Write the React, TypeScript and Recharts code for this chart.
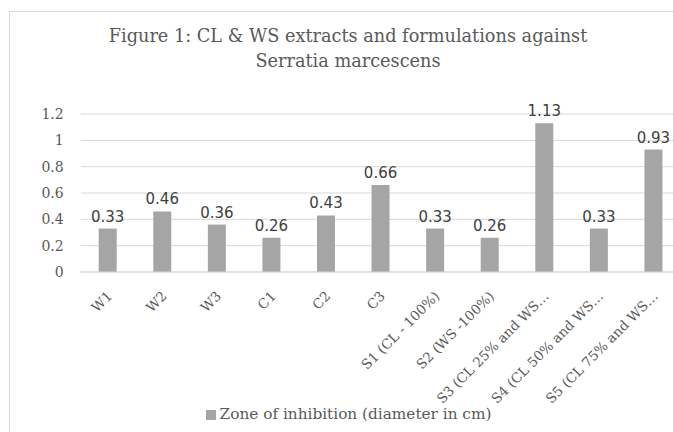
import React from 'react';
import { BarChart, Bar, XAxis, YAxis, CartesianGrid, Legend, LabelList } from 'recharts';

// Samples along the x axis (long names are cut off in the original figure)
const samples = [
  'W1',
  'W2',
  'W3',
  'C1',
  'C2',
  'C3',
  'S1 (CL - 100%)',
  'S2 (WS -100%)',
  'S3 (CL 25% and WS…',
  'S4 (CL 50% and WS…',
  'S5 (CL 75% and WS…',
];
const zoneValues = [0.33, 0.46, 0.36, 0.26, 0.43, 0.66, 0.33, 0.26, 1.13, 0.33, 0.93];
const yTicks = [0, 0.2, 0.4, 0.6, 0.8, 1, 1.2];
const seriesName = 'Zone of inhibition (diameter in cm)';

const data = samples.map((name, i) => ({ name, zone: zoneValues[i] }));

const SERIF = '"DejaVu Serif", "Liberation Serif", serif';
const SANS = '"DejaVu Sans", "Liberation Sans", sans-serif';
const TEXT = '#595959';

function AngledTick({ x, y, payload }: any) {
  return (
    <g transform={`translate(${x},${y})`}>
      <text
        x={5}
        y={17}
        textAnchor="end"
        transform="rotate(-45 5 17)"
        fill={TEXT}
        fontSize={13.5}
        fontFamily={SERIF}
      >
        {payload.value}
      </text>
    </g>
  );
}

export default function App() {
  // fixed so the page never grows a scrollbar
  return (
    <div
      style={{
        position: 'fixed',
        left: 8,
        top: 8,
        width: 665,
        height: 424,
        overflow: 'hidden',
        background: '#fff',
      }}
    >
      <div
        style={{
          position: 'absolute',
          left: 1,
          top: 3,
          width: 800,
          height: 600,
          borderTop: '1px solid #d9d9d9',
          borderLeft: '1px solid #d9d9d9',
        }}
      />
      <div
        style={{
          position: 'absolute',
          left: 90,
          width: 500,
          top: 16,
          textAlign: 'center',
          fontFamily: SERIF,
          fontSize: 17.7,
          lineHeight: '25px',
          color: TEXT,
          whiteSpace: 'nowrap',
        }}
      >
        Figure 1: CL &amp; WS extracts and formulations against
        <br />
        Serratia marcescens
      </div>
      <BarChart
        width={700}
        height={424}
        data={data}
        margin={{ top: 106, right: 27, left: 0, bottom: 0 }}
        style={{ position: 'absolute', left: 0, top: 0 }}
      >
        <CartesianGrid vertical={false} stroke="#d9d9d9" />
        <XAxis
          dataKey="name"
          interval={0}
          height={128}
          axisLine={{ stroke: '#d9d9d9' }}
          tickLine={false}
          tick={<AngledTick />}
        />
        <YAxis
          width={72.7}
          domain={[0, 1.2]}
          ticks={yTicks}
          axisLine={false}
          tickLine={false}
          dx={-9}
          tick={{ fill: TEXT, fontSize: 14, fontFamily: SERIF }}
        />
        <Legend
          verticalAlign="bottom"
          iconType="square"
          iconSize={10}
          height={32}
          wrapperStyle={{ left: 9, bottom: -5, fontFamily: SERIF, fontSize: 15.3 }}
          formatter={(value: string) => <span style={{ color: TEXT }}>{value}</span>}
        />
        <Bar dataKey="zone" name={seriesName} fill="#a5a5a5" barSize={18} isAnimationActive={false}>
          <LabelList
            dataKey="zone"
            position="top"
            offset={7}
            fill="#404040"
            fontSize={15}
            fontFamily={SANS}
          />
        </Bar>
      </BarChart>
    </div>
  );
}
